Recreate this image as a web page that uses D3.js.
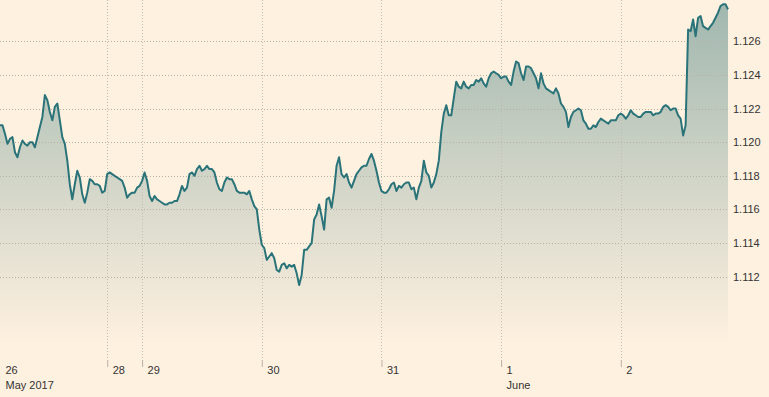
<!DOCTYPE html>
<html>
<head>
<meta charset="utf-8">
<script src="https://cdn.jsdelivr.net/npm/d3@7"></script>
<style>
  body { margin: 0; background: #fff1e0; }
  svg { display: block; font-family: "Liberation Sans", Arial, sans-serif; }
</style>
</head>
<body>
<div id="chart"></div>
<script>
var w = 769;
var h = 397;

// EUR/USD, half-hourly readings, one array per trading session
var fri26 = [1.1210, 1.1210, 1.1205, 1.1199, 1.1202, 1.1203, 1.1194, 1.1191, 1.1197, 1.1201,
  1.1199, 1.1198, 1.1200, 1.1200, 1.1197, 1.1203, 1.1209, 1.1215, 1.1228, 1.1225,
  1.1218, 1.1213, 1.1221, 1.1223, 1.1213, 1.1203, 1.1199, 1.1189, 1.1175, 1.1166,
  1.1175, 1.1183, 1.1179, 1.1169, 1.1164, 1.1170, 1.1178, 1.1177, 1.1175, 1.1175,
  1.1174, 1.1170, 1.1171];
var sun28 = [1.1181, 1.1182, 1.1181, 1.1180, 1.1179, 1.1178, 1.1177, 1.1173, 1.1167, 1.1169,
  1.1170, 1.1170, 1.1173, 1.1174];
var mon29 = [1.1177, 1.1182, 1.1177, 1.1168, 1.1165, 1.1168, 1.1166, 1.1165, 1.1164, 1.1163,
  1.1163, 1.1164, 1.1164, 1.1165, 1.1165, 1.1169, 1.1174, 1.1171, 1.1173, 1.1181,
  1.1182, 1.1180, 1.1184, 1.1186, 1.1183, 1.1184, 1.1186, 1.1184, 1.1184, 1.1182,
  1.1176, 1.1172, 1.1171, 1.1176, 1.1179, 1.1178, 1.1178, 1.1175, 1.1171, 1.1170,
  1.1170, 1.1170, 1.1169, 1.1171, 1.1166, 1.1162, 1.1160, 1.1148];
var tue30 = [1.1139, 1.1137, 1.1130, 1.1132, 1.1134, 1.1131, 1.1124, 1.1123, 1.1127, 1.1128,
  1.1125, 1.1127, 1.1126, 1.1127, 1.1122, 1.1115, 1.1121, 1.1136, 1.1136, 1.1138,
  1.1140, 1.1154, 1.1157, 1.1163, 1.1156, 1.1148, 1.1166, 1.1167, 1.1161, 1.1171,
  1.1186, 1.1191, 1.1181, 1.1179, 1.1181, 1.1176, 1.1173, 1.1177, 1.1181, 1.1183,
  1.1185, 1.1186, 1.1186, 1.1190, 1.1193, 1.1189, 1.1183, 1.1176];
var wed31 = [1.1171, 1.1170, 1.1170, 1.1172, 1.1175, 1.1176, 1.1171, 1.1174, 1.1173, 1.1175,
  1.1176, 1.1176, 1.1172, 1.1173, 1.1166, 1.1173, 1.1177, 1.1189, 1.1182, 1.1180,
  1.1173, 1.1176, 1.1181, 1.1189, 1.1206, 1.1217, 1.1222, 1.1216, 1.1216, 1.1226,
  1.1236, 1.1233, 1.1232, 1.1236, 1.1233, 1.1232, 1.1234, 1.1234, 1.1237, 1.1236,
  1.1238, 1.1235, 1.1233, 1.1238, 1.1241, 1.1242, 1.1241, 1.1240];
var thu1 = [1.1238, 1.1239, 1.1239, 1.1236, 1.1234, 1.1242, 1.1248, 1.1247, 1.1241, 1.1237,
  1.1245, 1.1245, 1.1244, 1.1241, 1.1238, 1.1232, 1.1241, 1.1235, 1.1232, 1.1231,
  1.1230, 1.1229, 1.1232, 1.1229, 1.1223, 1.1221, 1.1218, 1.1209, 1.1215, 1.1218,
  1.1219, 1.1220, 1.1219, 1.1213, 1.1211, 1.1208, 1.1208, 1.1210, 1.1209, 1.1212,
  1.1214, 1.1213, 1.1212, 1.1211, 1.1213, 1.1213, 1.1213, 1.1216];
var fri2 = [1.1217, 1.1216, 1.1214, 1.1216, 1.1219, 1.1217, 1.1216, 1.1215, 1.1215, 1.1217,
  1.1218, 1.1218, 1.1218, 1.1216, 1.1217, 1.1217, 1.1218, 1.1221, 1.1222, 1.1221,
  1.1219, 1.1220, 1.1220, 1.1216, 1.1214, 1.1204, 1.1210, 1.1267, 1.1266, 1.1273,
  1.1263, 1.1274, 1.1275, 1.1269, 1.1268, 1.1267, 1.1269, 1.1271, 1.1274, 1.1277,
  1.1281, 1.1282, 1.1282, 1.1279];

var sessions = [fri26, sun28, mon29, tue30, wed31, thu1, fri2];
var dayLabels = ["26", "28", "29", "30", "31", "1", "2"];
var monthLabels = ["May 2017", "", "", "", "", "June", ""];
var yTicks = [1.112, 1.114, 1.116, 1.118, 1.120, 1.122, 1.124, 1.126];

var dataset = [].concat.apply([], sessions);
var dayStart = [];
var n = 0;
sessions.forEach(function(s) { dayStart.push(n); n += s.length; });

var plotRight = 728;
var plotBottom = 360;

var xScale = d3.scaleLinear()
    .domain([0, dataset.length - 1])
    .range([0, plotRight]);
var yScale = d3.scaleLinear()
    .domain([1.112, 1.126])
    .range([276.7, 41.3]);

var svg = d3.select("#chart")
    .append("svg")
    .attr("width", w)
    .attr("height", h);

svg.append("rect").attr("width", w).attr("height", h).attr("fill", "#fff1e0");

// Gradient fill under the line
var grad = svg.append("defs").append("linearGradient")
    .attr("id", "fade")
    .attr("gradientUnits", "userSpaceOnUse")
    .attr("x1", 0).attr("y1", 0).attr("x2", 0).attr("y2", 345);
grad.append("stop").attr("offset", "0%").attr("stop-color", "#2b6f71").attr("stop-opacity", 0.45);
grad.append("stop").attr("offset", "100%").attr("stop-color", "#2b6f71").attr("stop-opacity", 0);

var area = d3.area()
    .x(function(d, i) { return xScale(i); })
    .y0(plotBottom)
    .y1(function(d) { return yScale(d); });

svg.append("path")
    .datum(dataset)
    .attr("d", area)
    .attr("fill", "url(#fade)");

// Horizontal gridlines
svg.selectAll(".hgrid")
    .data(yTicks)
    .enter()
    .append("line")
    .attr("class", "hgrid")
    .attr("x1", 0)
    .attr("x2", plotRight)
    .attr("y1", function(d) { return Math.round(yScale(d)) + 0.5; })
    .attr("y2", function(d) { return Math.round(yScale(d)) + 0.5; })
    .attr("stroke", "#b9b0a5")
    .attr("stroke-dasharray", "1,2");

// Vertical gridlines at day starts (skip the first at the edge)
svg.selectAll(".vgrid")
    .data(dayStart.slice(1))
    .enter()
    .append("line")
    .attr("class", "vgrid")
    .attr("x1", function(d) { return Math.round(xScale(d)) + 0.5; })
    .attr("x2", function(d) { return Math.round(xScale(d)) + 0.5; })
    .attr("y1", 0)
    .attr("y2", plotBottom)
    .attr("stroke", "#c4bbb0")
    .attr("stroke-dasharray", "1,2");

// Line
var line = d3.line()
    .x(function(d, i) { return xScale(i); })
    .y(function(d) { return yScale(d); });

svg.append("path")
    .datum(dataset)
    .attr("d", line)
    .attr("fill", "none")
    .attr("stroke", "#2a7479")
    .attr("stroke-width", 2)
    .attr("stroke-linejoin", "round");

// Right axis
var yAxis = d3.axisRight(yScale)
    .tickValues(yTicks)
    .tickSize(0)
    .tickPadding(5)
    .tickFormat(d3.format(".3f"));
var gy = svg.append("g")
    .attr("transform", "translate(" + plotRight + ",0)")
    .call(yAxis);
gy.select(".domain").remove();
gy.selectAll("text")
    .attr("font-size", "11px")
    .attr("font-family", "'Liberation Sans', Arial, sans-serif")
    .attr("fill", "#333");

// Bottom axis: day ticks with day and month labels
var xAxis = d3.axisBottom(xScale)
    .tickValues(dayStart)
    .tickSize(7)
    .tickPadding(0)
    .tickFormat(function(d, i) { return dayLabels[i]; });
var gx = svg.append("g")
    .attr("transform", "translate(0," + plotBottom + ")")
    .call(xAxis);
gx.select(".domain").remove();
gx.attr("text-anchor", "start");
gx.selectAll("line")
    .attr("stroke", "#b9b0a5")
    .attr("stroke-opacity", function(d, i) { return i === 0 ? 0 : 1; });
gx.selectAll("text")
    .attr("x", 5)
    .attr("y", 6)
    .attr("dy", "0.71em")
    .attr("font-size", "11px")
    .attr("font-family", "'Liberation Sans', Arial, sans-serif")
    .attr("fill", "#333");
gx.selectAll(".tick")
    .append("text")
    .text(function(d, i) { return monthLabels[i]; })
    .attr("text-anchor", "start")
    .attr("x", 5)
    .attr("y", 21)
    .attr("dy", "0.71em")
    .attr("font-size", "11px")
    .attr("font-family", "'Liberation Sans', Arial, sans-serif")
    .attr("fill", "#333");
</script>
</body>
</html>
